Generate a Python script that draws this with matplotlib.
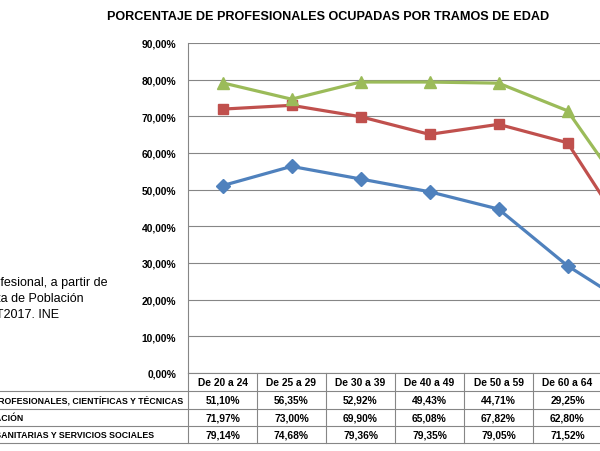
import matplotlib
matplotlib.use("Agg")
import matplotlib.pyplot as plt
from matplotlib.lines import Line2D
from matplotlib.ticker import FuncFormatter, MultipleLocator

# fuente tipo Arial
plt.rcParams["font.family"] = ["Liberation Sans", "DejaVu Sans"]

# datos (última columna queda fuera del recorte, valores estimados)
tramos = ["De 20 a 24", "De 25 a 29", "De 30 a 39", "De 40 a 49",
          "De 50 a 59", "De 60 a 64", "De 65 y más"]
profesionales = [51.10, 56.35, 52.92, 49.43, 44.71, 29.25, 17.30]
educacion = [71.97, 73.00, 69.90, 65.08, 67.82, 62.80, 33.70]
sanitarias = [79.14, 74.68, 79.36, 79.35, 79.05, 71.52, 44.70]
nombres = ["ACTIVIDADES PROFESIONALES, CIENTÍFICAS Y TÉCNICAS",
           "EDUCACIÓN",
           "ACTIVIDADES SANITARIAS Y SERVICIOS SOCIALES"]
nota = ["Datos de ocupación profesional, a partir de",
        "la Encuesta de Población",
        "Activa 4T2017. INE"]

W, H = 600, 452
fig = plt.figure(figsize=(W / 100, H / 100), dpi=100)

# área de trazado en píxeles (se sale por la derecha, como en el recorte)
x0, x1, y_top, y_bot = 188, 671, 44, 374
ax = fig.add_axes([x0 / W, 1 - y_bot / H, (x1 - x0) / W, (y_bot - y_top) / H])

estilos = [
    (profesionales, "#4F81BD", "D", 6.8),
    (educacion, "#C0504D", "s", 7.8),
    (sanitarias, "#9BBB59", "^", 8.8),
]
x = list(range(len(tramos)))
for valores, color, marcador, ms in estilos:
    ax.plot(x, valores, color=color, lw=2.3, marker=marcador, ms=ms,
            mec=color, mfc=color, clip_on=False, zorder=3)

ax.set_xlim(-0.5, len(tramos) - 0.5)
ax.set_ylim(0, 90)
ax.yaxis.set_major_locator(MultipleLocator(10))
ax.yaxis.set_major_formatter(FuncFormatter(lambda v, p: f"{v:.2f}%".replace(".", ",")))
ax.tick_params(axis="y", length=0, pad=8.5, labelsize=7.4)
for t in ax.get_yticklabels():
    t.set_fontweight("bold")
ax.set_xticks([])
ax.grid(axis="y", color="#868686", lw=0.8)
ax.set_axisbelow(True)
for lado in ["top", "right"]:
    ax.spines[lado].set_visible(False)
ax.spines["left"].set_color("#868686")
ax.spines["bottom"].set_color("#868686")
ax.spines["left"].set_linewidth(0.8)
ax.spines["bottom"].set_linewidth(0.8)

# tabla de datos bajo el eje
alto = y_bot - y_top


def ya(py):
    return (y_bot - py) / alto


filas = [374, 392, 410, 427, 444]
tx = ax.get_xaxis_transform()
gris = "#868686"
for i in range(len(tramos) + 1):
    ax.add_line(Line2D([i - 0.5, i - 0.5], [0, ya(filas[-1])], transform=tx,
                       color=gris, lw=0.8, clip_on=False))
for py in filas[1:]:
    fig.add_artist(Line2D([0, 1], [1 - py / H, 1 - py / H], color=gris, lw=0.8))

# la última columna queda fuera del recorte: solo se rotulan las visibles
for i, tramo in enumerate(tramos[:-1]):
    ax.text(i, ya((filas[0] + filas[1]) / 2), tramo, transform=tx, ha="center",
            va="center", fontsize=7.4, fontweight="bold")
    for j, serie in enumerate([profesionales, educacion, sanitarias]):
        ax.text(i, ya((filas[j + 1] + filas[j + 2]) / 2),
                f"{serie[i]:.2f}%".replace(".", ","), transform=tx,
                ha="center", va="center", fontsize=7.4, fontweight="bold")

fin_etiqueta = [183, 24, 154]
for j, nombre in enumerate(nombres):
    fig.text(fin_etiqueta[j] / W, 1 - (filas[j + 1] + filas[j + 2]) / 2 / H, nombre,
             ha="right", va="center", fontsize=6.3, fontweight="bold")

# nota de fuente (cortada por la izquierda)
fin_nota = [107, 84, 59]
for k, linea in enumerate(nota):
    fig.text(fin_nota[k] / W, 1 - (283 + 16 * k) / H, linea, ha="right",
             va="center", fontsize=9.0)

fig.text(328 / W, 1 - 17 / H, "PORCENTAJE DE PROFESIONALES OCUPADAS POR TRAMOS DE EDAD",
         ha="center", va="center", fontsize=9.1, fontweight="bold")

fig.savefig("out.png", dpi=100)
